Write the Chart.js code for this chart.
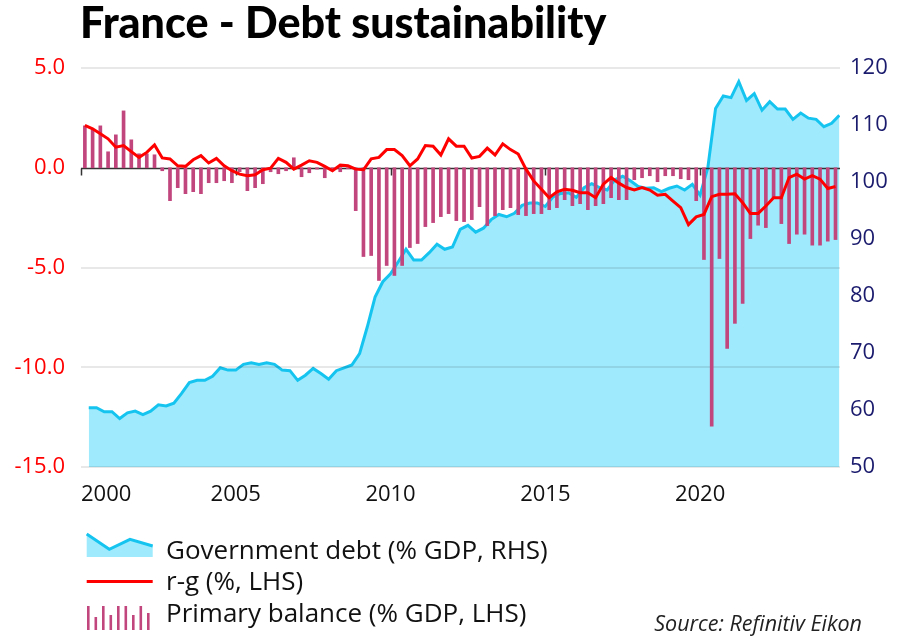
<!DOCTYPE html>
<html>
<head>
<meta charset="utf-8">
<script src="https://cdn.jsdelivr.net/npm/chart.js@4.4.1/dist/chart.umd.min.js"></script>
<style>
  body { margin: 0; background: #fff; }
  #wrap { position: relative; width: 899px; height: 640px; overflow: hidden; }
  #chart { position: absolute; left: 0; top: 0; }
  #title { position: absolute; left: 80px; top: -4px; font: 900 43px Lato, sans-serif; color: #000; white-space: nowrap; }
  .leg { position: absolute; left: 166px; font: 26px "Open Sans", sans-serif; color: #111; white-space: nowrap; line-height: 30px; }
  .icon { position: absolute; left: 84px; }
  #source { position: absolute; right: 37px; top: 609px; font: italic 21.5px "Open Sans", sans-serif; color: #222; line-height: 28px; }
</style>
</head>
<body>
<div id="wrap">
  <canvas id="chart" width="899" height="640"></canvas>
  <div id="title">France - Debt sustainability</div>

  <svg class="icon" style="top:530px" width="72" height="30">
    <polygon points="2.7,4 25.3,19.3 46,9.3 68.7,16 68.7,27 2.7,27" fill="#9feafd"/>
    <polyline points="2.7,4 25.3,19.3 46,9.3 68.7,16" fill="none" stroke="#16c4f0" stroke-width="3"/>
  </svg>
  <div class="leg" style="top:534px">Government debt (% GDP, RHS)</div>

  <svg class="icon" style="top:572px" width="72" height="20">
    <line x1="2.7" y1="9.5" x2="68.7" y2="9.5" stroke="#ff0000" stroke-width="3"/>
  </svg>
  <div class="leg" style="top:565px">r-g (%, LHS)</div>

  <svg class="icon" id="barIcon" style="top:602px" width="72" height="30"></svg>
  <div class="leg" style="top:597px">Primary balance (% GDP, LHS)</div>

  <div id="source">Source: Refinitiv Eikon</div>
</div>

<script>
// ===== Data (quarterly, 2000Q1 - 2024Q2) =====
const firstYear = 2000;
const yearTicks = [2000, 2005, 2010, 2015, 2020];
const leftTicks = [5, 0, -5, -10, -15];
const rightTicks = [120, 110, 100, 90, 80, 70, 60, 50];

// Government debt, % of GDP (right axis)
const debt = [
  60.4, 60.4, 59.7, 59.7, 58.5, 59.5, 59.8, 59.2, 59.8, 60.9, 60.7, 61.2,
  62.9, 64.8, 65.2, 65.2, 65.9, 67.4, 67.0, 67.0, 68.0, 68.3, 68.0, 68.3,
  68.0, 67.0, 66.9, 65.2, 66.1, 67.3, 66.4, 65.4, 66.9, 67.4, 67.9, 69.9,
  74.6, 79.8, 82.5, 83.9, 86.0, 88.2, 86.3, 86.3, 87.6, 89.1, 88.2, 88.6,
  91.7, 92.4, 91.2, 91.9, 93.4, 94.3, 93.9, 94.5, 95.9, 96.3, 96.3, 95.7,
  97.4, 98.0, 98.1, 97.3, 99.0, 99.7, 99.0, 98.6, 100.4, 101.0, 100.2, 99.2,
  98.9, 99.0, 98.3, 98.9, 99.3, 98.6, 99.6, 97.7, 102.5, 112.9, 115.1, 114.8,
  117.6, 114.3, 115.5, 112.6, 114.1, 112.8, 112.8, 111.0, 112.1, 111.2, 111.0, 109.7,
  110.3, 111.7
];

// r-g, % (left axis)
const rg = [
  2.12, 1.95, 1.70, 1.45, 1.03, 1.11, 0.81, 0.52, 0.77, 1.14, 0.49, 0.44,
  0.10, 0.07, 0.40, 0.61, 0.24, 0.47, 0.10, -0.15, -0.32, -0.40, -0.35, -0.10,
  -0.02, 0.47, 0.27, -0.07, 0.13, 0.35, 0.27, 0.07, -0.15, 0.13, 0.10, -0.07,
  -0.10, 0.45, 0.52, 0.91, 0.91, 0.61, 0.10, 0.44, 1.11, 1.08, 0.64, 1.45,
  1.08, 1.08, 0.49, 0.57, 0.98, 0.64, 1.20, 0.91, 0.69, -0.07, -0.66, -1.08,
  -1.50, -1.21, -1.08, -1.13, -1.25, -1.25, -1.50, -0.82, -0.49, -0.77, -0.99, -1.11,
  -0.99, -1.12, -1.38, -1.33, -1.67, -2.00, -2.85, -2.46, -2.34, -1.45, -1.33, -1.33,
  -1.30, -1.75, -2.29, -2.29, -1.92, -1.50, -1.50, -0.49, -0.32, -0.57, -0.40, -0.57,
  -1.04, -0.94
];

// Primary balance, % of GDP (left axis)
const primary = [
  2.1, 1.9, 2.1, 0.8, 1.65, 2.85, 1.4, 0.7, 0.7, 0.65, -0.15, -1.65,
  -1.0, -1.3, -1.2, -1.3, -0.75, -0.75, -0.65, -0.75, -0.2, -1.15, -1.0, -0.8,
  -0.2, -0.3, -0.15, 0.5, -0.45, -0.25, -0.07, -0.5, -0.1, -0.2, -0.05, -2.15,
  -4.45, -4.4, -5.65, -4.9, -5.4, -4.9, -4.0, -3.8, -2.95, -2.75, -2.45, -2.3,
  -2.65, -2.7, -2.6, -1.95, -2.9, -2.4, -2.1, -2.0, -2.35, -2.4, -2.3, -2.3,
  -2.1, -2.0, -1.6, -1.9, -1.8, -2.1, -1.9, -1.8, -1.5, -1.6, -1.6, -0.6,
  -0.5, -0.4, -0.7, -0.4, -0.4, -0.55, -0.6, -1.65, -4.6, -12.95, -4.55, -9.05,
  -7.8, -6.8, -3.55, -2.88, -3.0, -1.5, -2.8, -3.8, -3.33, -3.33, -3.88, -3.88,
  -3.68, -3.6
];

// quarter positions on the time axis: flows mid-quarter, debt at quarter end
const quarterMid = debt.map((_, i) => firstYear + 0.125 + i * 0.25);
const quarterEnd = debt.map((_, i) => firstYear + 0.25 + i * 0.25);

const RED = "#ff0000";
const NAVY = "#1b1b6e";
const BAR = "#c2467e";

// ===== Legend bar icon =====
const barHeights = [24, 13, 24, 15, 24, 24, 15, 24, 17];
document.getElementById("barIcon").innerHTML = barHeights
  .map((h, i) => `<rect x="${3 + i * 7.5}" y="${28 - h}" width="2.6" height="${h}" fill="${BAR}"/>`)
  .join("");

// ===== Grid, zero line and year ticks drawn over the debt area =====
const overlayPlugin = {
  id: "overlay",
  afterDatasetDraw(chart, args) {
    if (chart.data.datasets[args.index].label !== "debt") return;
    const ctx = chart.ctx;
    const area = chart.chartArea;
    const yL = chart.scales.yL;
    const x = chart.scales.x;
    ctx.save();
    ctx.lineWidth = 2;
    ctx.strokeStyle = "rgba(0,0,0,0.09)";
    leftTicks.forEach(v => {
      if (v === 0) return;
      const y = Math.round(yL.getPixelForValue(v));
      ctx.beginPath();
      ctx.moveTo(area.left, y);
      ctx.lineTo(area.right, y);
      ctx.stroke();
    });
    const y0 = Math.round(yL.getPixelForValue(0)) + 0.5;
    ctx.strokeStyle = "#333";
    ctx.lineWidth = 1.5;
    ctx.beginPath();
    ctx.moveTo(area.left, y0);
    ctx.lineTo(area.right, y0);
    ctx.stroke();
    yearTicks.forEach(v => {
      const px = Math.round(x.getPixelForValue(v)) + 0.5;
      ctx.beginPath();
      ctx.moveTo(px, y0);
      ctx.lineTo(px, y0 + 7);
      ctx.stroke();
    });
    ctx.restore();
  }
};

// ===== Chart =====
const tickFont = { family: "Open Sans", size: 22 };

new Chart(document.getElementById("chart"), {
  type: "line",
  data: {
    datasets: [
      {
        label: "debt",
        data: debt.map((v, i) => ({ x: quarterEnd[i], y: v })),
        yAxisID: "yR",
        borderColor: "#16c4f0",
        backgroundColor: "#9feafd",
        borderWidth: 3,
        pointRadius: 0,
        fill: "start",
        order: 2
      },
      {
        type: "bar",
        label: "primary",
        data: primary.map((v, i) => ({ x: quarterMid[i], y: v })),
        yAxisID: "yL",
        backgroundColor: BAR,
        barThickness: 3,
        order: 1
      },
      {
        label: "rg",
        data: rg.map((v, i) => ({ x: quarterMid[i], y: v })),
        yAxisID: "yL",
        borderColor: RED,
        borderWidth: 3,
        pointRadius: 0,
        fill: false,
        order: 0
      }
    ]
  },
  options: {
    responsive: false,
    animation: false,
    layout: { padding: { top: 68, bottom: 133, left: 0, right: 0 } },
    plugins: { legend: { display: false }, tooltip: { enabled: false } },
    scales: {
      x: {
        type: "linear",
        offset: false,
        min: 2000,
        max: 2024.52,
        afterBuildTicks: s => { s.ticks = yearTicks.concat([2024.52]).map(v => ({ value: v })); },
        afterFit: s => { s.height = 40; },
        grid: { display: false, drawTicks: false },
        border: { display: false },
        ticks: {
          autoSkip: false,
          maxRotation: 0,
          align: "inner",
          padding: 15,
          color: "#111",
          font: tickFont,
          callback: v => yearTicks.includes(v) ? String(v) : ""
        }
      },
      yL: {
        position: "left",
        min: -15,
        max: 5,
        afterBuildTicks: s => { s.ticks = leftTicks.map(v => ({ value: v })); },
        afterFit: s => { s.width = 81; },
        grid: { display: false, drawTicks: false },
        border: { display: false },
        ticks: { color: RED, font: tickFont, padding: 16, callback: v => v.toFixed(1) }
      },
      yR: {
        position: "right",
        min: 50,
        max: 120,
        afterBuildTicks: s => { s.ticks = rightTicks.map(v => ({ value: v })); },
        afterFit: s => { s.width = 59; },
        grid: { display: false, drawTicks: false },
        border: { display: false },
        ticks: { color: NAVY, font: tickFont, padding: 10 }
      }
    }
  },
  plugins: [overlayPlugin]
});
</script>
</body>
</html>
